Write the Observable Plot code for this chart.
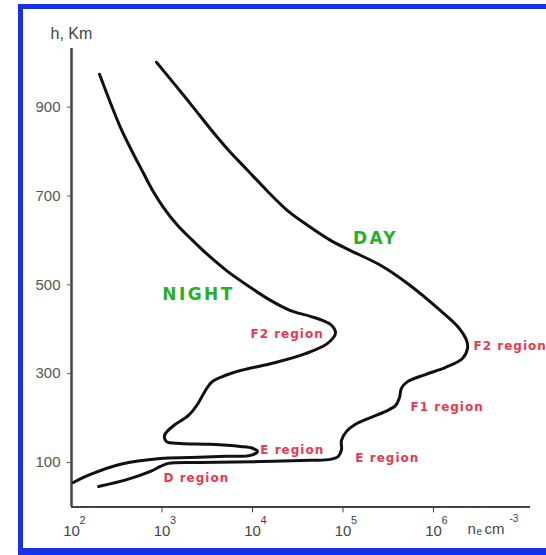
<!DOCTYPE html>
<html>
<head>
<meta charset="utf-8">
<script src="https://cdn.jsdelivr.net/npm/d3@7"></script>
<script src="https://cdn.jsdelivr.net/npm/@observablehq/plot@0.6"></script>
<style>
  html, body { margin: 0; padding: 0; background: #fff; overflow: hidden; }
  #wrap { position: relative; width: 546px; height: 555px; overflow: hidden; background: #fff; }
  #chart { position: absolute; left: 0; top: 0; }
  .bar { position: absolute; background: #1a32e6; }
  g[aria-description="regions"] text { letter-spacing: 1px; }
  g[aria-description="phase"] text { letter-spacing: 2.4px; }
</style>
</head>
<body>
<div id="wrap">
  <div id="chart"></div>
  <div class="bar" style="left:18px;top:4px;width:528px;height:5px"></div>
  <div class="bar" style="left:18px;top:4px;width:5px;height:551px"></div>
  <div class="bar" style="left:18px;top:548px;width:528px;height:7px"></div>
</div>
<script>
// Electron density profiles (n_e in cm^-3, h in km)
const dayN = [869, 1410, 2228, 3524, 5433, 8810, 14290, 24380, 40550, 72780, 121100, 259400, 516400, 1194000, 1888000, 2317000, 2377000, 2089000, 1359000, 816600, 516400, 442600, 420700, 380000, 295100, 201400, 137400, 109400, 96200, 96200, 89100, 72800, 43750, 12240, 2660, 1180, 962, 746, 416, 199];
const dayH = [1001, 949, 899, 848, 803, 758, 713, 667, 634, 600, 577, 544, 503, 442, 404, 375, 357, 334, 314, 298, 282, 267, 246, 228, 215, 201, 186, 170, 150, 129, 114, 107, 105, 102, 100, 98, 91, 80, 62, 46];

const nightN = [204, 263, 348, 460, 625, 785, 1040, 1483, 2173, 3266, 5164, 9506, 15810, 26300, 43750, 59300, 74600, 82600, 67500, 38550, 17950, 7360, 4600, 3500, 2900, 2450, 1963, 1306, 1067, 1122, 1600, 3436, 7360, 10000, 11350, 9506, 5036, 2065, 962, 348, 162, 105];
const nightH = [974, 915, 854, 803, 751, 713, 674, 634, 600, 566, 532, 494, 465, 442, 429, 420, 409, 391, 368, 345, 325, 307, 293, 280, 256, 230, 206, 181, 161, 147, 143, 141, 136, 132, 125, 116, 114, 111, 109, 96, 73, 55];

const yTicks = [100, 300, 500, 700, 900];
const xExps = [2, 3, 4, 5, 6];

const regionLabels = ["F2 region", "F2 region", "F1 region", "E region", "E region", "D region"];
const regionN = [9500, 2770000, 557000, 137000, 12200, 1040];
const regionH = [390, 363, 224, 109, 127, 64];

const phaseLabels = ["NIGHT", "DAY"];
const phaseN = [2530, 228600];
const phaseH = [478, 604];

const day = dayN.map((n, i) => ({n, h: dayH[i]}));
const night = nightN.map((n, i) => ({n, h: nightH[i]}));
const regions = regionLabels.map((t, i) => ({t, n: regionN[i], h: regionH[i]}));
const phases = phaseLabels.map((t, i) => ({t, n: phaseN[i], h: phaseH[i]}));

const xMax = 1.18e7, yMax = 1032;
const axisColor = "#444";
const red = "#e8384f", green = "#27b027";

const plot = Plot.plot({
  width: 546, height: 555,
  marginLeft: 71, marginRight: 16, marginTop: 48, marginBottom: 48.6,
  style: {background: "transparent", fontFamily: "'Liberation Sans', Arial, sans-serif"},
  x: {type: "log", domain: [100, xMax]},
  y: {domain: [0, yMax]},
  marks: [
    Plot.ruleX([100], {y1: 0, y2: yMax, stroke: axisColor, strokeWidth: 2.5}),
    Plot.ruleY([0], {x1: 100, x2: xMax, stroke: axisColor, strokeWidth: 2}),
    Plot.axisY({ticks: yTicks, tickSize: 4, tickPadding: 7, fontSize: 15, color: "#555", label: null, tickFormat: d => String(d)}),
    Plot.axisX({ticks: xExps.slice(1).map(e => 10 ** e), tickSize: 6, tickFormat: () => "", label: null, color: axisColor}),
    Plot.text(xExps, {x: d => 10 ** d, y: 0, text: () => "10", dy: 24, fontSize: 15, fill: "#444"}),
    Plot.text(xExps, {x: d => 10 ** d, y: 0, text: d => String(d), dx: 8, dy: 14, textAnchor: "start", fontSize: 11, fill: "#444"}),
    Plot.text(["h, Km"], {x: 100, y: yMax, text: d => d, dx: -21, dy: -15, textAnchor: "start", fontSize: 16, fill: "#444"}),
    Plot.text(["n"], {x: 1e6, y: 0, text: d => d, dx: 34, dy: 22, textAnchor: "start", fontSize: 15, fill: "#444"}),
    Plot.text(["e"], {x: 1e6, y: 0, text: d => d, dx: 43, dy: 25, textAnchor: "start", fontSize: 10, fill: "#444"}),
    Plot.text(["cm"], {x: 1e6, y: 0, text: d => d, dx: 51, dy: 22, textAnchor: "start", fontSize: 15, fill: "#444"}),
    Plot.text(["-3"], {x: 1e6, y: 0, text: d => d, dx: 76, dy: 12, textAnchor: "start", fontSize: 10, fill: "#444"}),
    Plot.line(night, {x: "n", y: "h", curve: "catmull-rom", stroke: "#111", strokeWidth: 3}),
    Plot.line(day, {x: "n", y: "h", curve: "catmull-rom", stroke: "#111", strokeWidth: 3}),
    Plot.text(regions, {x: "n", y: "h", text: "t", textAnchor: "start", fontSize: 12, fontWeight: "bold",
      fontFamily: "'DejaVu Sans', sans-serif", fill: red, ariaDescription: "regions"}),
    Plot.text(phases, {x: "n", y: "h", text: "t", fontSize: 17, fontWeight: "bold",
      fontFamily: "'DejaVu Sans', sans-serif", fill: green, ariaDescription: "phase"})
  ]
});
document.getElementById("chart").appendChild(plot);
</script>
</body>
</html>
